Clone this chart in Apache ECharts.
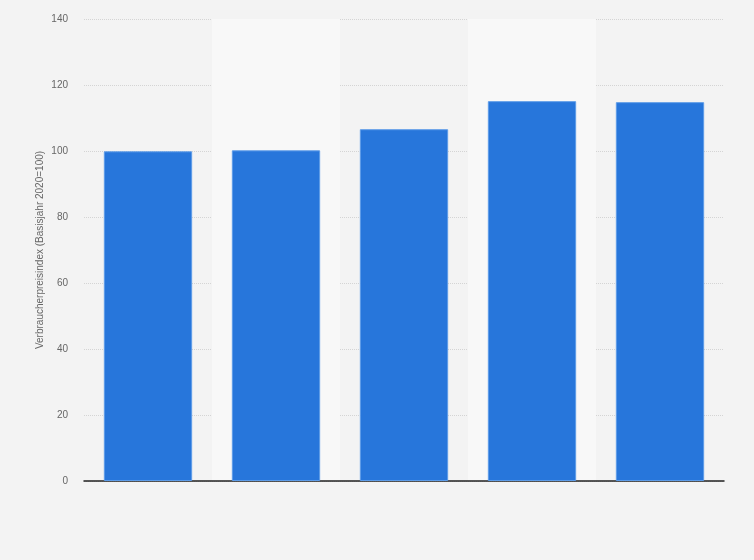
<!DOCTYPE html>
<html>
	<head>
		<meta charset="UTF-8">
		<title></title>
		<script src="https://cdn.jsdelivr.net/npm/echarts@6/dist/echarts.min.js" type="text/javascript" charset="utf-8"></script>
		<style>
			html, body { margin: 0; padding: 0; background: #f3f3f3; }
		</style>
	</head>
	<body>
		<div id="chart" style="width:754px;height:560px;"></div>
	</body>
	<script type="text/javascript">
        // Daten
        var categories = ['2020', '2021', '2022', '2023', '2024'];
        var values = [99.9, 100.2, 106.6, 115.1, 114.8];
        var yTicks = [0, 20, 40, 60, 80, 100, 120, 140];

        var chart = echarts.init(document.getElementById('chart'));
        chart.setOption({
            backgroundColor: '#f3f3f3',
            animation: false,
            grid: { left: 84, right: 30, top: 19, bottom: 79 },
            xAxis: {
                type: 'category',
                data: categories,
                axisTick: { show: false },
                axisLabel: { show: false },
                axisLine: { lineStyle: { color: '#222', width: 1.5 } },
                splitArea: { show: true, areaStyle: { color: ['rgba(0,0,0,0)', '#f8f8f8'] } }
            },
            yAxis: {
                type: 'value',
                min: yTicks[0],
                max: yTicks[yTicks.length - 1],
                interval: 20,
                name: 'Verbraucherpreisindex (Basisjahr 2020=100)',
                nameLocation: 'middle',
                nameGap: 39,
                nameMoveOverlap: false,
                nameTextStyle: { color: '#666', fontSize: 10, fontFamily: 'Arial, Liberation Sans' },
                axisLine: { show: false },
                axisTick: { show: false },
                axisLabel: { color: '#666', fontSize: 10, margin: 16, fontFamily: 'Arial, Liberation Sans' },
                splitLine: { lineStyle: { color: '#d4d4d4', type: [1, 1] } }
            },
            series: [{
                type: 'bar',
                data: values,
                barWidth: '69%',
                itemStyle: { color: '#2776db', borderColor: '#5d9ce8', borderWidth: 1 }
            }]
        });
	</script>
</html>
